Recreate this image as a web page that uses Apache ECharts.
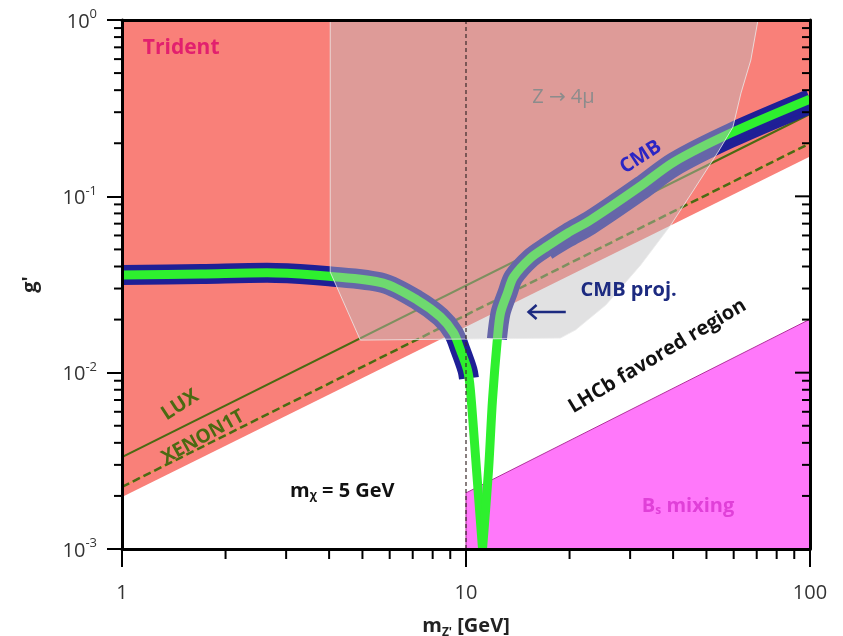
<!DOCTYPE html>
<html>
<head>
<meta charset="utf-8">
<script src="https://cdn.jsdelivr.net/npm/echarts@6/dist/echarts.min.js"></script>
<style>html,body{margin:0;padding:0;background:#fff}#c{width:843px;height:636px}</style>
</head>
<body>
<div id="c"></div>
<script>
// ---------- axis extents & ticks ----------
const X_MIN = 1, X_MAX = 100;
const Y_MIN = 0.001, Y_MAX = 1;
const xMinor = [2,3,4,5,6,7,8,9,20,30,40,50,60,70,80,90];
const yMinor = [0.002,0.003,0.004,0.005,0.006,0.007,0.008,0.009,0.02,0.03,0.04,0.05,0.06,0.07,0.08,0.09,0.2,0.3,0.4,0.5,0.6,0.7,0.8,0.9];
const yMajor = [0.01, 0.1];

// ---------- regions / bounds (m in GeV, g') ----------
const tridentM = [1, 100];
const tridentG = [0.00197, 0.168];
const luxM = [1, 100];
const luxG = [0.00332, 0.293];
const xenonM = [1, 100];
const xenonG = [0.00225, 0.2];
const bsM = [10, 100];
const bsG = [0.00208, 0.0201];
const z4muM = [4.03, 70.6, 67.3, 63.0, 59.7, 54.0, 45.9, 39.4, 32.2, 25.5, 20.8, 18.8, 4.93, 4.03];
const z4muG = [1, 1, 0.593, 0.385, 0.247, 0.178, 0.1086, 0.0688, 0.0408, 0.0242, 0.01745, 0.0157, 0.0153, 0.0372];
const resonanceM = [10];

// relic abundance curve (green)
const relicM = [1, 1.7, 2.8, 4.0, 5.75, 7.22, 8.43, 9.20, 9.64, 10.1, 10.3, 10.73, 11.17, 11.63, 11.94, 12.35, 12.6, 13.2, 13.75, 15.41, 17.27, 19.75, 23.04, 32.2, 40.2, 58.9, 100];
const relicG = [0.0358, 0.0363, 0.0368, 0.0352, 0.0322, 0.0258, 0.0207, 0.0168, 0.0134, 0.01035, 0.00797, 0.00281, 0.001, 0.00281, 0.0070, 0.0159, 0.0218, 0.0283, 0.03485, 0.04467, 0.05224, 0.0619, 0.0734, 0.1144, 0.1565, 0.2286, 0.356];
// CMB band (blue)
const cmbLeftM = [1, 1.7, 2.8, 4.0, 5.75, 7.22, 8.43, 9.20, 9.64, 10.1, 10.2];
const cmbLeftG = [0.0358, 0.0363, 0.0368, 0.0352, 0.0322, 0.0258, 0.0207, 0.0168, 0.0134, 0.01035, 0.0093];
const cmbRightM = [12.3, 12.6, 13.2, 13.75, 15.41, 17.27, 19.75, 23.04, 32.2, 40.2, 58.9, 100];
const cmbRightG = [0.0155, 0.0218, 0.0283, 0.03485, 0.04467, 0.05224, 0.0619, 0.0734, 0.1144, 0.1565, 0.2286, 0.356];
// lower edge widening of the CMB band at high mass
const cmbLowM = [17.27, 19.75, 23.04, 32.2, 40.2, 58.9, 100];
const cmbLowG = [0.0490, 0.0574, 0.0680, 0.1059, 0.1449, 0.2116, 0.330];

// annotations (anchor in data coords)
const noteText = ['Trident', 'Z → 4μ', 'CMB', 'CMB proj.', 'LHCb favored region', 'LUX', 'XENON1T', '{a|m}{b|χ}{a| = 5 GeV}', '{a|B}{b|s}{a| mixing}'];
const noteM = [1.486, 19.2, 32.2, 29.7, 36.0, 1.475, 1.72, 4.37, 44.2];
const noteG = [0.694, 0.366, 0.167, 0.0294, 0.0124, 0.00655, 0.00431, 0.00221, 0.00182];
const arrowM = [19.5, 15.2];
const arrowG = [0.0221, 0.0221];

// ---------- styling ----------
const FONT = '"Open Sans", "DejaVu Sans", sans-serif';
const noteStyle = [
  {color:'#e2206e', size:21, weight:'bold', rot:0},
  {color:'#8c8c8c', size:20, weight:'normal', rot:0},
  {color:'#2b25c4', size:20, weight:'bold', rot:33},
  {color:'#1c2a80', size:20, weight:'bold', rot:0},
  {color:'#111111', size:20, weight:'bold', rot:31},
  {color:'#4b6a12', size:20, weight:'bold', rot:33},
  {color:'#4b6a12', size:19, weight:'bold', rot:29},
  {color:'#111111', size:20, weight:'bold', rot:0},
  {color:'#e040d8', size:20, weight:'bold', rot:0}
];

const tip = relicG.indexOf(Math.min.apply(null, relicG));

function polygonSeries(ms, gs, style, z) {
  return {
    type: 'custom', z: z, silent: true, clip: true,
    data: [[ms[0], gs[0]]],
    renderItem: (p, api) => ({
      type: 'polygon',
      shape: { points: ms.map((m, i) => api.coord([m, gs[i]])) },
      style: style
    })
  };
}
function curveSeries(ms, gs, style, z, smooth) {
  return {
    type: 'custom', z: z, silent: true, clip: true,
    data: [[ms[0], gs[0]]],
    renderItem: (p, api) => ({
      type: 'polyline',
      shape: { points: ms.map((m, i) => api.coord([m, gs[i]])), smooth: smooth || 0 },
      style: Object.assign({ fill: null, lineCap: 'butt', lineJoin: 'round' }, style)
    })
  };
}

const chart = echarts.init(document.getElementById('c'), null, {renderer: 'canvas'});
const option = {
  animation: false,
  backgroundColor: '#ffffff',
  grid: { left: 122, right: 33, top: 20, bottom: 87, containLabel: false, outerBoundsMode: 'none' },
  xAxis: [{
    type: 'log', logBase: 10, min: X_MIN, max: X_MAX, position: 'bottom', z: 10,
    axisLine: { show: true, onZero: false, lineStyle: { color: '#000', width: 3 } },
    axisTick: { show: true, length: 18, lineStyle: { color: '#000', width: 2 } },
    minorTick: { show: false }, splitLine: { show: false },
    axisLabel: { margin: 34, fontSize: 20, color: '#333', fontFamily: FONT, formatter: v => String(v) },
    name: '{m|m}{s|Z\'}{m| [GeV]}', nameLocation: 'middle', nameGap: 64,
    nameTextStyle: { fontFamily: FONT, rich: {
      m: { fontSize: 20, fontWeight: 'bold', color: '#222', fontFamily: FONT, lineHeight: 26 },
      s: { fontSize: 12, fontWeight: 'bold', color: '#222', fontFamily: FONT, verticalAlign: 'bottom', lineHeight: 20 }
    } }
  }, {
    type: 'log', logBase: 10, min: X_MIN, max: X_MAX, position: 'top', z: 10,
    axisLine: { show: true, onZero: false, lineStyle: { color: '#000', width: 3 } },
    axisTick: { show: false }, axisLabel: { show: false }, splitLine: { show: false }
  }],
  yAxis: [{
    type: 'log', logBase: 10, min: Y_MIN, max: Y_MAX, position: 'left', z: 10,
    axisLine: { show: true, onZero: false, lineStyle: { color: '#000', width: 3 } },
    axisTick: { show: true, length: 15, lineStyle: { color: '#000', width: 2 } },
    minorTick: { show: false }, splitLine: { show: false },
    axisLabel: { margin: 25, fontFamily: FONT,
      formatter: v => '{b|10}{s|' + Math.round(Math.log10(v)) + '}',
      rich: {
        b: { fontSize: 20, color: '#333', fontFamily: FONT, lineHeight: 24, verticalAlign: 'bottom' },
        s: { fontSize: 13, color: '#333', fontFamily: FONT, lineHeight: 24, verticalAlign: 'top' }
      } },
    name: "g'", nameLocation: 'middle', nameGap: 82, nameRotate: 90,
    nameTextStyle: { fontSize: 20, fontWeight: 'bold', color: '#222', fontFamily: FONT }
  }, {
    type: 'log', logBase: 10, min: Y_MIN, max: Y_MAX, position: 'right', z: 10,
    axisLine: { show: true, onZero: false, lineStyle: { color: '#000', width: 3 } },
    axisTick: { show: false }, axisLabel: { show: false }, splitLine: { show: false }
  }],
  series: [
    // Trident excluded region
    polygonSeries([X_MIN, tridentM[0], tridentM[1], X_MAX], [Y_MAX, tridentG[0], tridentG[1], Y_MAX],
      { fill: '#f98079' }, 1),
    // Bs mixing region
    polygonSeries([bsM[0], bsM[0], bsM[1], bsM[1]], [Y_MIN, bsG[0], bsG[1], Y_MIN],
      { fill: '#ff78fa', stroke: '#b0309a', lineWidth: 1 }, 1),
    // LUX & XENON1T
    curveSeries(luxM, luxG, { stroke: '#4b6a12', lineWidth: 2 }, 3),
    curveSeries(xenonM, xenonG, { stroke: '#e0a040', lineWidth: 1 }, 3),
    curveSeries(xenonM, xenonG, { stroke: '#4b6a12', lineWidth: 2.5, lineDash: [8, 4] }, 3),
    // CMB band
    curveSeries(cmbLowM, cmbLowG, { stroke: '#1f1f96', lineWidth: 18 }, 4, 0.3),
    curveSeries(cmbLeftM, cmbLeftG, { stroke: '#1f1f96', lineWidth: 20 }, 4, 0.3),
    curveSeries(cmbRightM, cmbRightG, { stroke: '#1f1f96', lineWidth: 20 }, 4, 0.3),
    // relic curve (two legs of the resonance dip)
    curveSeries(relicM.slice(0, tip + 1), relicG.slice(0, tip + 1), { stroke: '#2ef02e', lineWidth: 9 }, 5, 0.3),
    curveSeries(relicM.slice(tip), relicG.slice(tip), { stroke: '#2ef02e', lineWidth: 9 }, 5, 0.3),
    // Z -> 4mu region (translucent, on top)
    polygonSeries(z4muM, z4muG, { fill: 'rgba(188,188,190,0.45)', stroke: 'rgba(235,235,235,0.8)', lineWidth: 1 }, 6),
    // vertical dashed line at m = 10 GeV
    curveSeries([resonanceM[0], resonanceM[0]], [Y_MIN, Y_MAX], { stroke: '#3a2a2a', lineWidth: 1.2, lineDash: [4, 3] }, 7),
    // arrow
    {
      type: 'custom', z: 8, silent: true, clip: false, data: [[arrowM[0], arrowG[0]]],
      renderItem: (p, api) => {
        const a = api.coord([arrowM[0], arrowG[0]]);
        const b = api.coord([arrowM[1], arrowG[1]]);
        const st = { stroke: '#1c2a80', lineWidth: 2.5, fill: null };
        return { type: 'group', children: [
          { type: 'line', shape: { x1: a[0], y1: a[1], x2: b[0], y2: b[1] }, style: st },
          { type: 'polyline', shape: { points: [[b[0] + 8, b[1] - 7], [b[0], b[1]], [b[0] + 8, b[1] + 7]] }, style: st }
        ] };
      }
    },
    // annotations
    {
      type: 'custom', z: 9, silent: true, clip: false,
      data: noteText.map((t, i) => [noteM[i], noteG[i], i]),
      renderItem: (p, api) => {
        const i = api.value(2);
        const c = api.coord([api.value(0), api.value(1)]);
        const s = noteStyle[i];
        return {
          type: 'text', x: c[0], y: c[1], rotation: s.rot * Math.PI / 180,
          style: {
            text: noteText[i], fill: s.color, fontSize: s.size, fontWeight: s.weight, fontFamily: FONT,
            align: 'center', verticalAlign: 'middle',
            rich: {
              a: { fill: s.color, fontSize: s.size, fontWeight: s.weight, fontFamily: FONT, lineHeight: s.size + 6, verticalAlign: 'bottom' },
              b: { fill: s.color, fontSize: Math.round(s.size * 0.6), fontWeight: s.weight, fontFamily: FONT, lineHeight: s.size + 2, verticalAlign: 'bottom' }
            }
          }
        };
      }
    },
    // minor ticks (x bottom outward, y left outward, y right inward)
    {
      type: 'custom', z: 10, silent: true, clip: false, data: [[X_MIN, Y_MIN]],
      renderItem: (p, api) => {
        const st = { stroke: '#000', lineWidth: 2 };
        const kids = [];
        xMinor.forEach(v => { const c = api.coord([v, Y_MIN]); kids.push({ type: 'line', shape: { x1: c[0], y1: c[1], x2: c[0], y2: c[1] + 10 }, style: st }); });
        yMinor.forEach(v => {
          const l = api.coord([X_MIN, v]); kids.push({ type: 'line', shape: { x1: l[0] - 8, y1: l[1], x2: l[0], y2: l[1] }, style: st });
          const r = api.coord([X_MAX, v]); kids.push({ type: 'line', shape: { x1: r[0] - 8, y1: r[1], x2: r[0], y2: r[1] }, style: st });
        });
        yMajor.forEach(v => {
          const r = api.coord([X_MAX, v]); kids.push({ type: 'line', shape: { x1: r[0] - 15, y1: r[1], x2: r[0], y2: r[1] }, style: st });
        });
        return { type: 'group', children: kids };
      }
    }
  ]
};
chart.setOption(option);
</script>
</body>
</html>
